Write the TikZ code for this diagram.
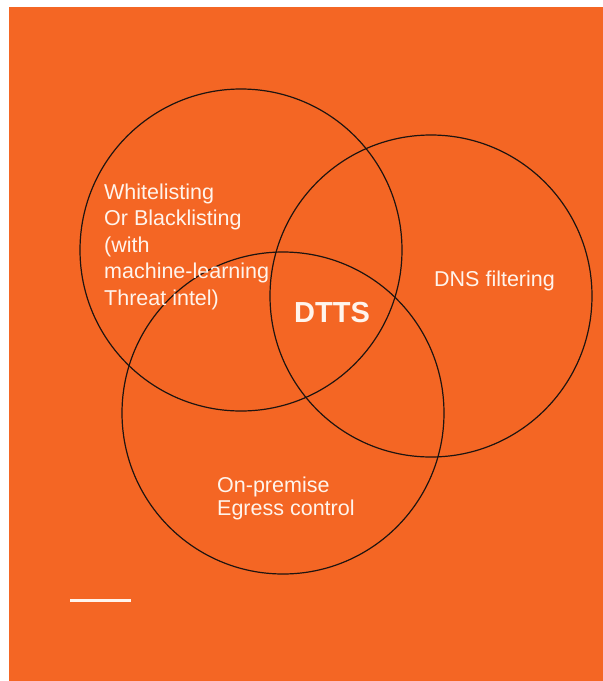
\documentclass[tikz,border=0pt]{standalone}
\usepackage{fontspec}
\setmainfont{Liberation Sans}
\definecolor{bgorange}{HTML}{F46624}
\definecolor{txtwhite}{HTML}{FFF4EC}
\definecolor{ringline}{HTML}{1E1410}
\begin{document}
\begin{tikzpicture}[x=1pt,y=-1pt,
  ring/.style={circle,draw=ringline,line width=1.2pt,minimum size=322pt,inner sep=0pt},
  lbl/.style={text=txtwhite,inner sep=0pt,align=left,font=\fontsize{21.5}{26.5}\selectfont},
  centerlbl/.style={text=txtwhite,inner sep=0pt,font=\fontsize{29}{32}\selectfont\bfseries}]
\useasboundingbox (0,0) rectangle (603,681);
\fill[white] (0,0) rectangle (603,681);
\fill[bgorange] (9,7) rectangle (603,681);
\node[ring] (c1) at (241,250) {};
\node[ring] (c2) at (431,296) {};
\node[ring] (c3) at (283,413) {};
\node[lbl,anchor=base west] (wl) at (104,305) {Whitelisting\\Or Blacklisting\\(with\\machine-learning\\Threat intel)};
\node[lbl,anchor=base west] (dns) at (434,286) {DNS filtering};
\node[lbl,anchor=base west,font=\fontsize{21.5}{23}\selectfont] (onp) at (217,515) {On-premise\\Egress control};
\node[centerlbl,anchor=base] (dtts) at (332,322) {DTTS};
\coordinate (ls) at (70,600);
\coordinate (le) at (131,600);
\draw[txtwhite,line width=3pt] (ls) -- (le);
\end{tikzpicture}
\end{document}
